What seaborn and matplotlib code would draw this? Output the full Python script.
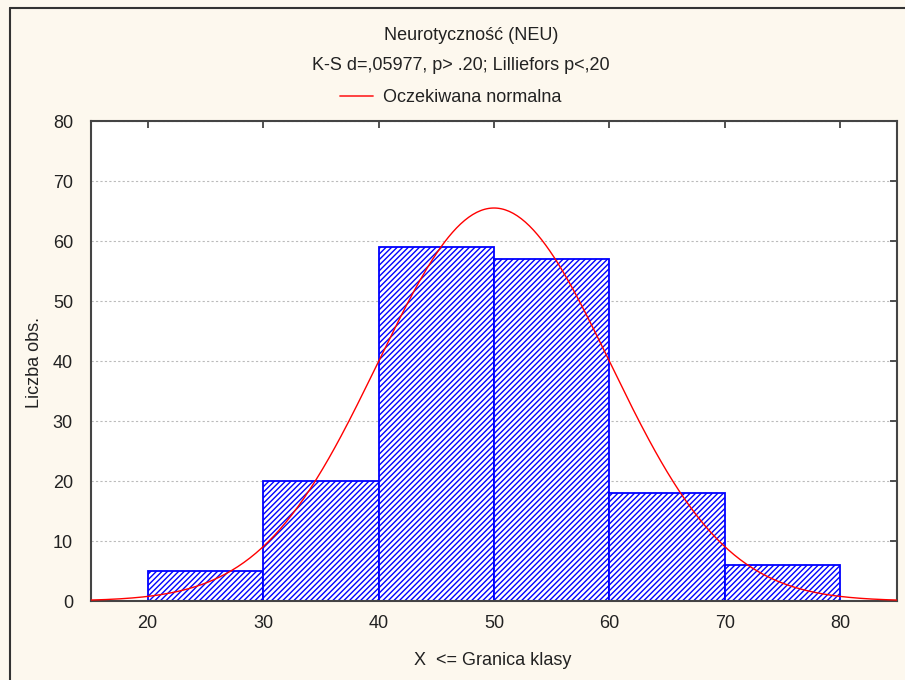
import numpy as np
import pandas as pd
import matplotlib
matplotlib.use("Agg")
import matplotlib.pyplot as plt
from matplotlib.lines import Line2D
import seaborn as sns

# ---- data ----
bin_edges = [20, 30, 40, 50, 60, 70, 80]
counts = [5, 20, 59, 57, 18, 6]
n_total = 165
fit_mean = 50.0
fit_sd = 10.05
title = "Neurotyczność (NEU)"
subtitle = "K-S d=,05977, p> .20; Lilliefors p<,20"
legend_label = "Oczekiwana normalna"
xlabel = "X  <= Granica klasy"
ylabel = "Liczba obs."
xticks = [20, 30, 40, 50, 60, 70, 80]
yticks = [0, 10, 20, 30, 40, 50, 60, 70, 80]

sns.set_style("white")
plt.rcParams["font.family"] = ["Liberation Sans", "DejaVu Sans"]
plt.rcParams["hatch.linewidth"] = 1.0

BG = "#FDF8EE"
TXT = "#222222"
FS = 13
fig = plt.figure(figsize=(9.05, 6.8), dpi=100, facecolor=BG)
ax = fig.add_axes([91/905, 1-601/680, (897-91)/905, (601-121)/680])
ax.set_facecolor("white")

centers = [(a + b) / 2 for a, b in zip(bin_edges[:-1], bin_edges[1:])]
df = pd.DataFrame({"x": centers, "w": counts})
sns.histplot(data=df, x="x", weights="w", bins=bin_edges, ax=ax,
             stat="count", fill=True, color="white", alpha=1.0,
             edgecolor="#0000FF", linewidth=1.3)
for p in ax.patches:
    p.set_facecolor("white")
    p.set_edgecolor("#0000FF")
    p.set_hatch("//////")
    p.set_zorder(2)

xs = np.linspace(15, 85, 400)
binw = bin_edges[1] - bin_edges[0]
ys = n_total * binw / (fit_sd * np.sqrt(2 * np.pi)) * np.exp(-0.5 * ((xs - fit_mean) / fit_sd) ** 2)
sns.lineplot(x=xs, y=ys, ax=ax, color="#FF0000", linewidth=1.0, zorder=3)

ax.set_xlim(15.1, 84.9)
ax.set_ylim(0, 80)
ax.set_xticks(xticks)
ax.set_yticks(yticks)
ax.tick_params(direction="in", length=5, width=1.2, color="#333333",
               top=True, right=True, labelsize=FS, labelcolor=TXT)
ax.tick_params(axis="y", pad=13)
ax.tick_params(axis="x", pad=10)
ax.yaxis.grid(True, linestyle=(0, (2, 2)), color="#BBBBBB", linewidth=0.8, zorder=0)
ax.xaxis.grid(False)
ax.set_axisbelow(True)
for s in ax.spines.values():
    s.set_visible(True)
    s.set_color("#444444")
    s.set_linewidth(1.5)

ax.set_xlabel(xlabel, fontsize=FS, color=TXT)
ax.set_ylabel(ylabel, fontsize=FS, color=TXT)
ax.xaxis.set_label_coords((493-91)/806, -(652-601)/480)
ax.yaxis.set_label_coords(-(91-43)/806, (601-363)/480)

fig.text(471/905, 1-35/680, title, ha="center", va="center", fontsize=FS, color=TXT)
fig.text(461/905, 1-65/680, subtitle, ha="center", va="center", fontsize=FS, color=TXT)
fig.add_artist(Line2D([340/905, 373/905], [1-96/680, 1-96/680], color="#FF3333", linewidth=1.3))
fig.text(383/905, 1-97/680, legend_label, ha="left", va="center", fontsize=FS, color=TXT)

# outer frame
fig.add_artist(Line2D([10/905, 10/905], [0, 1-8/680], color="#333333", linewidth=1.5))
fig.add_artist(Line2D([10/905, 1], [1-8/680, 1-8/680], color="#333333", linewidth=1.5))

fig.savefig("out.png", dpi=100, facecolor=BG)
